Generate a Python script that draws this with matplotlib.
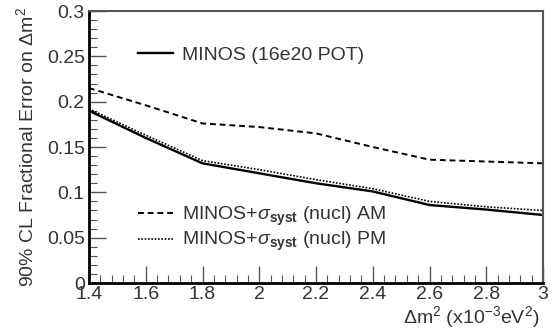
import matplotlib
matplotlib.use("Agg")
import matplotlib.pyplot as plt
from matplotlib.ticker import MultipleLocator

plt.rcParams['font.family'] = ['Liberation Sans', 'DejaVu Sans']
plt.rcParams['mathtext.fontset'] = 'custom'
plt.rcParams['mathtext.rm'] = 'Liberation Sans'
plt.rcParams['mathtext.it'] = 'Liberation Sans:italic'
plt.rcParams['mathtext.bf'] = 'Liberation Sans:bold'

# dm2 grid (x10^-3 eV^2)
dm2 = [1.4, 1.6, 1.8, 2.0, 2.2, 2.4, 2.6, 2.8, 3.0]
# fractional error curves
minos = [0.190, 0.160, 0.132, 0.121, 0.110, 0.101, 0.086, 0.081, 0.075]
minos_am = [0.215, 0.196, 0.176, 0.172, 0.165, 0.150, 0.136, 0.134, 0.132]
minos_pm = [0.192, 0.163, 0.135, 0.125, 0.114, 0.104, 0.090, 0.084, 0.080]

xlabels = ['1.4', '1.6', '1.8', '2', '2.2', '2.4', '2.6', '2.8', '3']
yvals = [0, 0.05, 0.1, 0.15, 0.2, 0.25, 0.3]
ylabels = ['0', '0.05', '0.1', '0.15', '0.2', '0.25', '0.3']

txt = '#333333'

fig = plt.figure(figsize=(5.58, 3.34), dpi=100)
ax = fig.add_axes([89/558, 1-283/334, 454/558, 272/334])

l1, = ax.plot(dm2, minos, color='black', lw=1.7)
l2, = ax.plot(dm2, minos_am, color='black', lw=1.4, ls=(0, (3, 2)))
l3, = ax.plot(dm2, minos_pm, color='black', lw=1.2, ls=(0, (1, 1)))

ax.set_xlim(1.4, 3.0)
ax.set_ylim(0, 0.3)
ax.xaxis.set_minor_locator(MultipleLocator(0.04))
ax.yaxis.set_minor_locator(MultipleLocator(0.01))
ax.set_xticks(dm2)
ax.set_xticklabels(xlabels)
ax.set_yticks(yvals)
ax.set_yticklabels(ylabels)

ax.tick_params(which='major', direction='in', length=12, width=1, labelsize=14,
               colors='#555555', labelcolor=txt, pad=3)
ax.tick_params(which='minor', direction='in', length=6, width=0.8, colors='#555555')
ax.tick_params(axis='x', pad=2)
for s in ['left', 'bottom']:
    ax.spines[s].set_linewidth(2)
for s in ['top', 'right']:
    ax.spines[s].set_linewidth(1.5)
    ax.spines[s].set_color('#555555')

ax.set_ylabel('90% CL Fractional Error on $\\Delta$m$^2$', fontsize=14, color=txt)
ax.yaxis.set_label_coords(-0.115, 0.5)
fig.text(540/558, 1-317/334, '$\\Delta$m$^2$ (x10$^{-3}$eV$^2$)', fontsize=14,
         color=txt, ha='right', va='center')

leg1 = ax.legend([l1], ['MINOS (16e20 POT)'], loc='center left',
                 bbox_to_anchor=(0.108, 0.838), frameon=False, fontsize=14,
                 handlelength=1.8, handletextpad=0.45, borderpad=0,
                 borderaxespad=0, labelcolor=txt)
ax.add_artist(leg1)
ax.legend([l2, l3], ['MINOS+$\\sigma_{\\mathbf{syst}}$ (nucl) AM',
                     'MINOS+$\\sigma_{\\mathbf{syst}}$ (nucl) PM'],
          loc='center left', bbox_to_anchor=(0.108, 0.198), frameon=False,
          fontsize=14, handlelength=1.8, handletextpad=0.45, borderpad=0,
          borderaxespad=0, labelspacing=0.1, labelcolor=txt)

fig.savefig('out.png', dpi=100)
